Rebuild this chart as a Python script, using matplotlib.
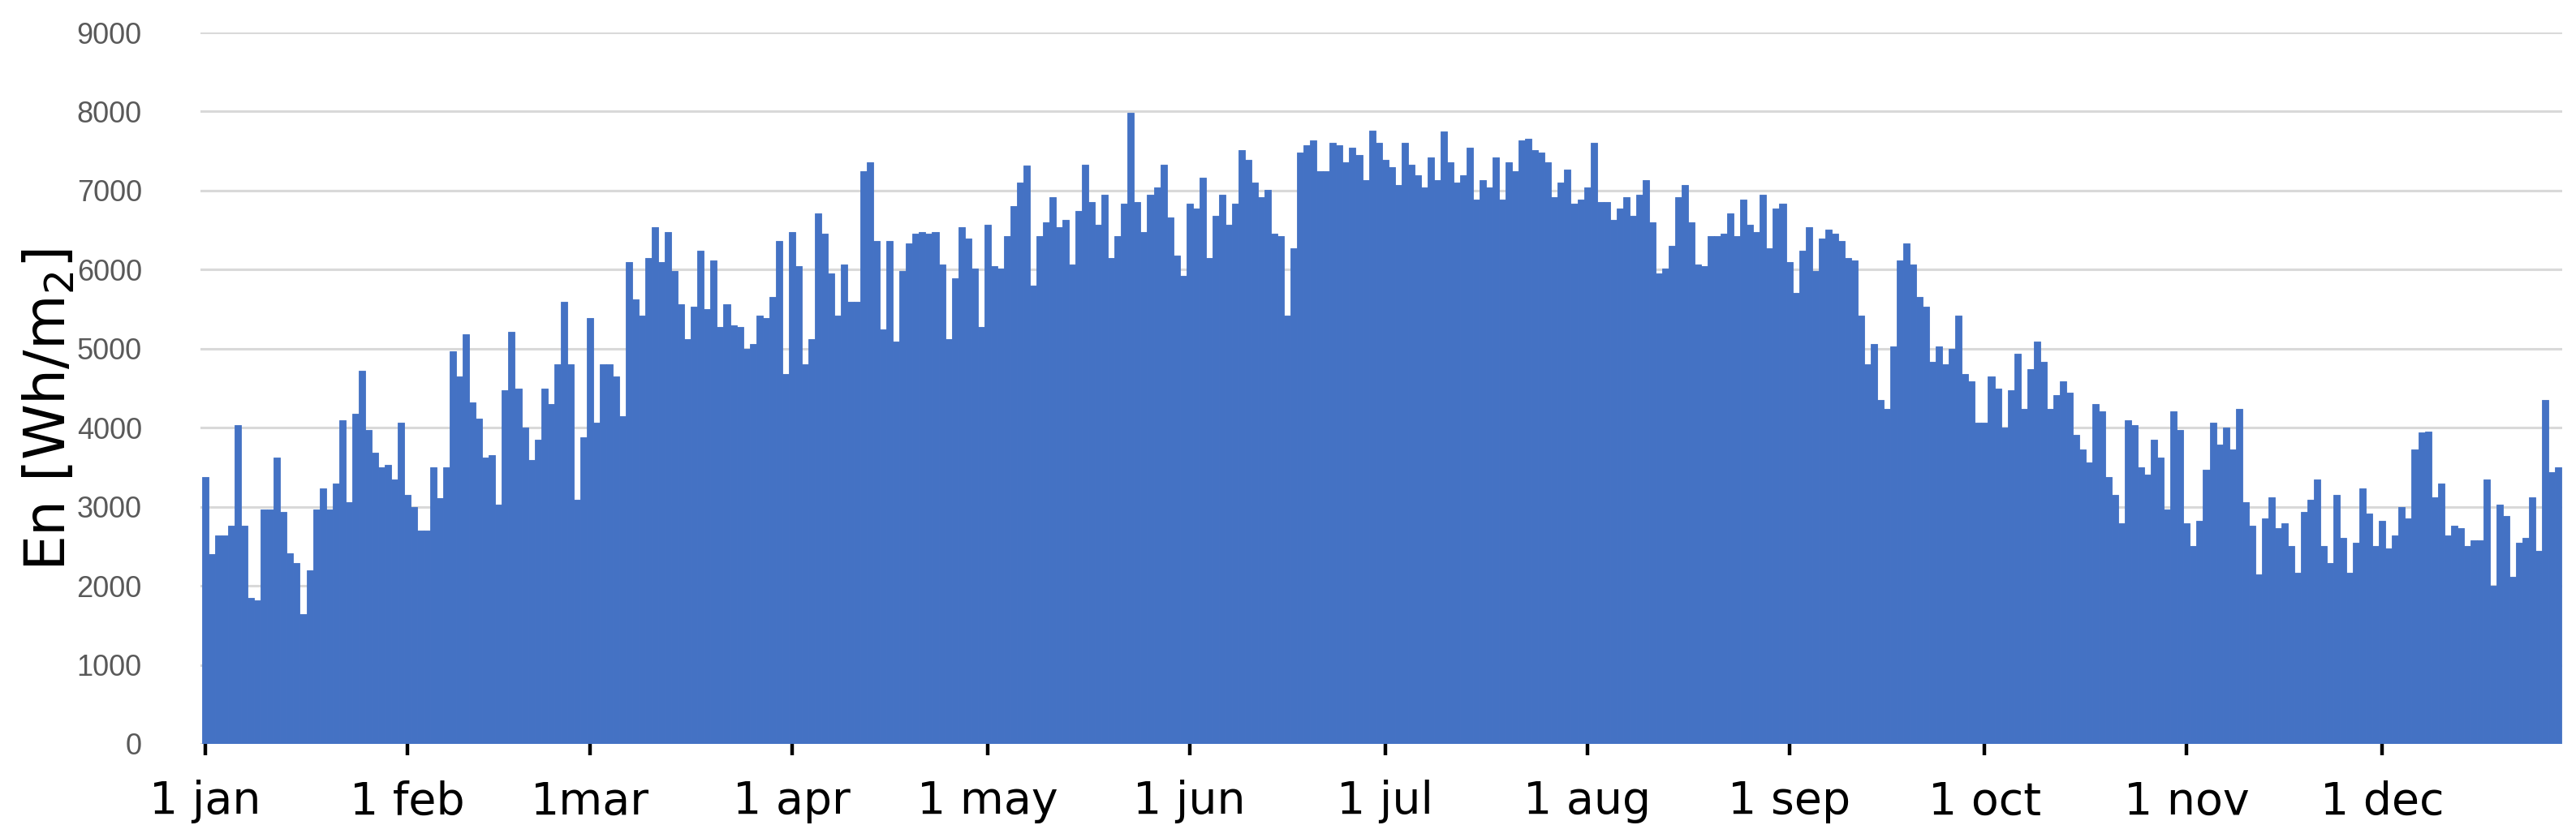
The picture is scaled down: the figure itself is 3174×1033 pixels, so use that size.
import matplotlib
matplotlib.use("Agg")
import matplotlib.pyplot as plt
import numpy as np

# Daily energy values [Wh/m2] (1 Jan .. 28 Dec)
jan = [3380, 2400, 2640, 2640, 2760, 4030, 2760, 1850, 1820, 2970, 2970, 3620, 2940, 2410, 2290, 1640,
       2200, 2970, 3230, 2970, 3290, 4090, 3060, 4180, 4720, 3970, 3680, 3500, 3530, 3350, 4060]
feb = [3150, 3000, 2700, 2700, 3500, 3110, 3500, 4970, 4650, 5180, 4320, 4120, 3620, 3650, 3030, 4470,
       5210, 4500, 4000, 3590, 3850, 4500, 4300, 4800, 5590, 4800, 3090, 3880]
mar = [5390, 4060, 4800, 4800, 4650, 4150, 6100, 5620, 5420, 6150, 6540, 6100, 6480, 5980, 5560, 5120,
       5530, 6240, 5500, 6120, 5270, 5560, 5300, 5270, 5000, 5060, 5420, 5390, 5650, 6360, 4680]
apr = [6480, 6040, 4800, 5120, 6710, 6450, 5950, 5420, 6070, 5590, 5590, 7250, 7360, 6360, 5240, 6360,
       5090, 5980, 6330, 6450, 6480, 6450, 6480, 6070, 5120, 5890, 6540, 6390, 6010, 5270]
may = [6570, 6040, 6010, 6420, 6800, 7100, 7320, 5800, 6420, 6600, 6920, 6540, 6630, 6070, 6740, 7330,
       6860, 6570, 6950, 6150, 6420, 6830, 7980, 6860, 6480, 6950, 7040, 7330, 6660, 6180, 5920]
jun = [6830, 6770, 7160, 6150, 6680, 6950, 6570, 6830, 7510, 7390, 7100, 6920, 7010, 6450, 6420, 5420,
       6270, 7480, 7570, 7630, 7250, 7250, 7600, 7570, 7360, 7540, 7450, 7130, 7760, 7600]
jul = [7390, 7300, 7070, 7600, 7330, 7190, 7040, 7420, 7130, 7750, 7360, 7100, 7190, 7540, 6890, 7130,
       7040, 7420, 6890, 7360, 7250, 7630, 7660, 7510, 7480, 7360, 6920, 7100, 7270, 6830, 6890]
aug = [7040, 7600, 6860, 6860, 6630, 6770, 6920, 6680, 6950, 7130, 6600, 5950, 6010, 6300, 6920, 7070,
       6600, 6070, 6040, 6420, 6420, 6450, 6710, 6420, 6890, 6570, 6480, 6950, 6270, 6770, 6830]
sep = [6100, 5710, 6240, 6540, 5980, 6390, 6510, 6450, 6360, 6150, 6120, 5420, 4800, 5060, 4350, 4240,
       5030, 6120, 6330, 6070, 5650, 5530, 4830, 5030, 4800, 5000, 5420, 4680, 4590, 4060]
oct_ = [4060, 4650, 4500, 4000, 4470, 4940, 4240, 4740, 5090, 4830, 4240, 4410, 4590, 4440, 3910, 3730,
        3560, 4300, 4210, 3380, 3150, 2790, 4090, 4030, 3500, 3410, 3850, 3620, 2970, 4210, 3970]
nov = [2790, 2500, 2820, 3470, 4060, 3790, 4000, 3730, 4240, 3060, 2760, 2140, 2850, 3120, 2730, 2790,
       2500, 2170, 2940, 3090, 3350, 2500, 2290, 3150, 2610, 2170, 2550, 3230, 2910, 2500]
dec = [2820, 2470, 2640, 3000, 2850, 3730, 3940, 3950, 3120, 3290, 2640, 2760, 2730, 2500, 2580, 2580,
       3350, 2000, 3030, 2880, 2110, 2550, 2610, 3120, 2440, 4350, 3440, 3500]

month_labels = ["1 jan", "1 feb", "1mar", "1 apr", "1 may", "1 jun", "1 jul", "1 aug",
                "1 sep", "1 oct", "1 nov", "1 dec"]
month_start_day = [0, 31, 59, 90, 120, 151, 181, 212, 243, 273, 304, 334]
y_ticks = [0, 1000, 2000, 3000, 4000, 5000, 6000, 7000, 8000, 9000]

values = jan + feb + mar + apr + may + jun + jul + aug + sep + oct_ + nov + dec
days = np.arange(len(values))

fig = plt.figure(figsize=(31.74, 10.33), dpi=100)
ax = fig.add_axes([247 / 3174, 1 - 917 / 1033, (3157 - 247) / 3174, (917 - 40) / 1033])

ax.bar(days, values, width=1.0, color="#4472C4", edgecolor="#4472C4", linewidth=0.6, zorder=2)

ax.set_xlim(-0.75, 361.6)
ax.set_ylim(0, 9000)
ax.set_yticks(y_ticks)
ax.set_yticklabels([str(v) for v in y_ticks], fontsize=26, color="#595959",
                   family="Liberation Sans")
ax.tick_params(axis="y", length=0, pad=52)
ax.yaxis.grid(True, color="#D9D9D9", linewidth=2.2, zorder=0)
ax.set_axisbelow(True)

ax.set_xticks(month_start_day)
ax.set_xticklabels(month_labels, fontsize=40, color="black")
ax.tick_params(axis="x", direction="inout", length=20, width=3.2, color="black", pad=22)

for s in ax.spines.values():
    s.set_visible(False)

fig.text(60 / 3174, 1 - 505 / 1033, "En [Wh/m$_2$]", rotation=90, fontsize=50,
         ha="center", va="center")

fig.savefig("out.png", dpi=100)
